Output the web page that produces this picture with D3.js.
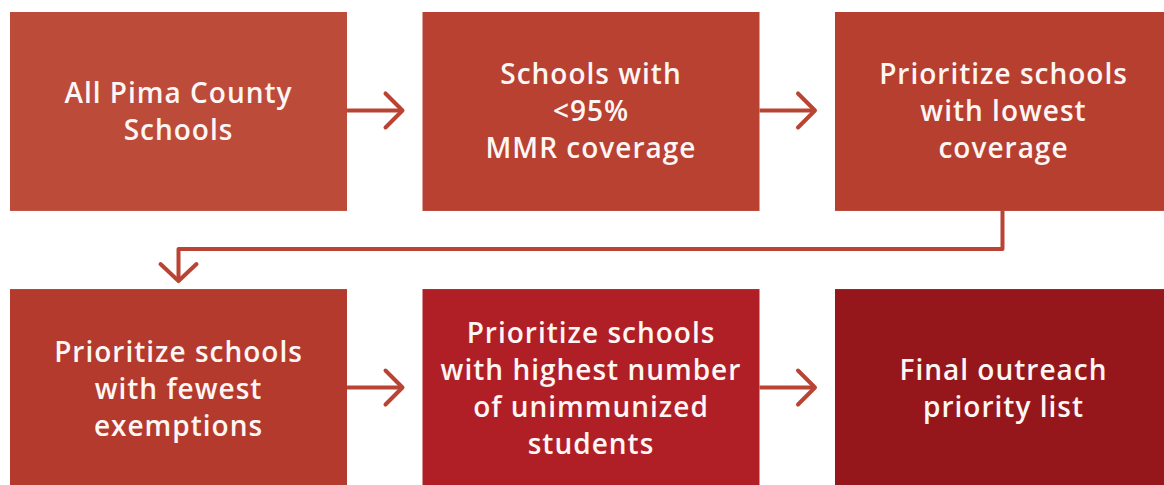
<!DOCTYPE html>
<html lang="en">
	<head>
		<meta charset="utf-8">
		<title>Pima County outreach flow</title>
		<script type="text/javascript" src="https://cdn.jsdelivr.net/npm/d3@7"></script>
		<style type="text/css">
			body { margin: 0; background: #fff; }

			.label {
				font-family: "Open Sans", Lato, sans-serif;
				font-weight: 600;
				font-size: 28px;
				letter-spacing: 1px;
				fill: #fdf6f4;
			}

			.arrow {
				fill: none;
				stroke: #b94434;
				stroke-width: 4;
				stroke-linecap: round;
				stroke-linejoin: round;
			}
		</style>
	</head>
	<body>
		<script type="text/javascript">

			var w = 1164;
			var h = 485;

			// steps of the flow, in reading order
			var stepLabels = [
				["All Pima County", "Schools"],
				["Schools with", "<95%", "MMR coverage"],
				["Prioritize schools", "with lowest", "coverage"],
				["Prioritize schools", "with fewest", "exemptions"],
				["Prioritize schools", "with highest number", "of unimmunized", "students"],
				["Final outreach", "priority list"]
			];
			var stepCols = [0, 1, 2, 0, 1, 2];
			var stepRows = [0, 0, 0, 1, 1, 1];
			var stepColors = ["#bc4b3a", "#b84131", "#b73f30", "#b43a2d", "#b01f26", "#95171c"];

			var lineHeight = 37;
			var armLen = 17;

			var xScale = d3.scaleBand()
				.domain([0, 1, 2])
				.range([10, 1172])
				.paddingInner(0.183);

			var yScale = d3.scaleBand()
				.domain([0, 1])
				.range([12, 488])
				.paddingInner(0.282);

			var steps = stepLabels.map(function(lines, i) {
				return { lines: lines, col: stepCols[i], row: stepRows[i], color: stepColors[i] };
			});

			var svg = d3.select('body')
				.append('svg')
				.attr('width', w)
				.attr('height', h);

			var boxes = svg.selectAll('g.step')
				.data(steps)
				.enter()
				.append('g')
				.attr('class', 'step')
				.attr('transform', function(d) {
					return 'translate(' + xScale(d.col) + ',' + yScale(d.row) + ')';
				});

			boxes.append('rect')
				.attr('width', xScale.bandwidth())
				.attr('height', yScale.bandwidth())
				.attr('fill', function(d) { return d.color; });

			boxes.append('text')
				.attr('class', 'label')
				.attr('text-anchor', 'middle')
				.each(function(d) {
					var t = d3.select(this);
					var n = d.lines.length;
					d.lines.forEach(function(line, j) {
						t.append('tspan')
							.attr('x', xScale.bandwidth() / 2)
							.attr('y', yScale.bandwidth() / 2 + (j - (n - 1) / 2) * lineHeight + 10)
							.text(line);
					});
				});

			// horizontal arrows within a row
			var links = [];
			for (var i = 0; i < steps.length - 1; i++) {
				if (steps[i].row === steps[i + 1].row) links.push([steps[i], steps[i + 1]]);
			}

			var lineGen = d3.line();

			links.forEach(function(pair) {
				var x0 = xScale(pair[0].col) + xScale.bandwidth();
				var x1 = xScale(pair[1].col) - 20;
				var y = yScale(pair[0].row) + yScale.bandwidth() / 2 - 1;
				svg.append('path')
					.attr('class', 'arrow')
					.style('stroke-linecap', 'butt')
					.attr('d', lineGen([[x0, y], [x1, y]]));
				svg.append('path')
					.attr('class', 'arrow')
					.attr('d', lineGen([[x1 - armLen, y - armLen], [x1, y], [x1 - armLen, y + armLen]]));
			});

			// connector from end of row 1 down to start of row 2
			var fromStep = steps[2], toStep = steps[3];
			var cx0 = xScale(fromStep.col) + xScale.bandwidth() / 2 - 1;
			var cx1 = xScale(toStep.col) + xScale.bandwidth() / 2;
			var topY = yScale(fromStep.row) + yScale.bandwidth();
			var bottomY = yScale(toStep.row);
			var midY = (topY + bottomY) / 2 - 1;
			var tipY = bottomY - 8;

			svg.append('path')
				.attr('class', 'arrow')
				.style('stroke-linecap', 'butt')
				.attr('d', lineGen([[cx0, topY], [cx0, midY], [cx1, midY], [cx1, tipY]]));

			svg.append('path')
				.attr('class', 'arrow')
				.attr('d', lineGen([[cx1 - armLen - 1, tipY - armLen], [cx1, tipY], [cx1 + armLen + 1, tipY - armLen]]));

		</script>
	</body>
</html>
